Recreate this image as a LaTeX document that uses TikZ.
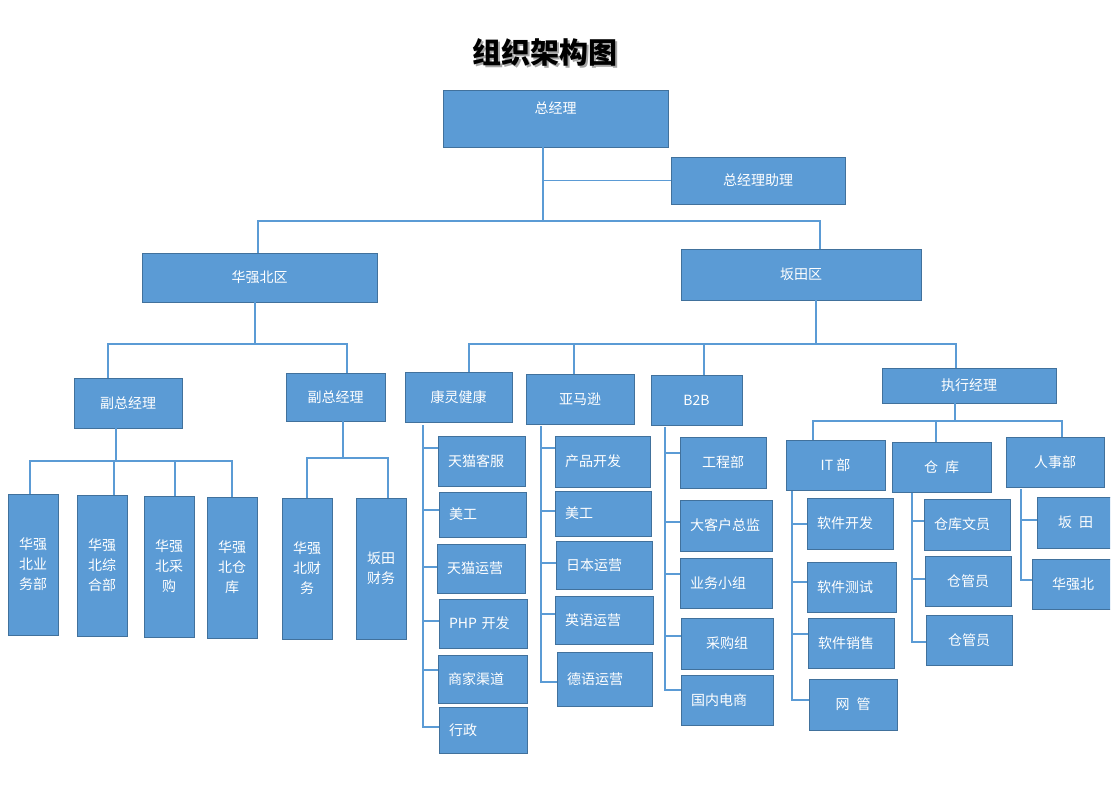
\documentclass[tikz,border=0pt]{standalone}
\usepackage{fontspec}
\newfontfamily\cjk{Noto Sans CJK SC}
\usepackage{xcolor}
\usepackage{tikz}
\definecolor{orgfill}{RGB}{91, 155, 213}
\definecolor{orgedge}{RGB}{65, 113, 156}
\definecolor{orgline}{RGB}{91, 155, 213}
\tikzset{
  unit/.style={draw=orgedge, fill=orgfill, line width=0.9pt, text=white, inner sep=0pt,
    font={\cjk\fontsize{14}{20}\selectfont}, align=center},
  lunit/.style={unit, align=left, inner xsep=10pt},
  link/.style={draw=orgline, line width=1.2pt},
  trunk/.style={draw=orgline, line width=2pt},
}
\begin{document}
\begin{tikzpicture}[x=1pt, y=-1pt]
\useasboundingbox (0,0) rectangle (1118,784);

% Title
\node[text=black!35, font={\cjk\bfseries\fontsize{29}{32}\selectfont}] (titleshade) at (547,54) {组织架构图};
\node[font={\cjk\bfseries\fontsize{29}{32}\selectfont}] (title) at (545,52) {组织架构图};

% Top
\node[unit, minimum width=225pt, text height=23pt, text depth=34pt] (gm) at (555.5,118.5) {总经理};
\node[unit, minimum width=174pt, minimum height=47pt] (asst) at (758,180.5) {总经理助理};
\node[unit, minimum width=235pt, minimum height=49pt] (hqb) at (259.5,277.5) {华强北区};
\node[unit, minimum width=240pt, minimum height=51pt] (bt) at (801,274.5) {坂田区};

% Huaqiangbei
\node[unit, minimum width=108pt, minimum height=50pt] (vp1) at (128,403) {副总经理};
\node[unit, minimum width=99pt, minimum height=48pt] (vp2) at (335.5,397) {副总经理};
\node[unit, minimum width=50pt, minimum height=141pt] (hq1) at (33,564.5) {华强\\北业\\务部};
\node[unit, minimum width=50pt, minimum height=141pt] (hq2) at (102,565.5) {华强\\北综\\合部};
\node[unit, minimum width=50pt, minimum height=141pt] (hq3) at (169,566.5) {华强\\北采\\购};
\node[unit, minimum width=50pt, minimum height=141pt] (hq4) at (232,567.5) {华强\\北仓\\库};
\node[unit, minimum width=50pt, minimum height=141pt] (hq5) at (307,568.5) {华强\\北财\\务};
\node[unit, minimum width=50pt, minimum height=141pt] (bt5) at (381,568.5) {坂田\\财务};

% Bantian departments
\node[unit, minimum width=107pt, minimum height=50pt] (kl) at (458.5,397) {康灵健康};
\node[unit, minimum width=108pt, minimum height=50pt] (amz) at (580,399) {亚马逊};
\node[unit, minimum width=91pt, minimum height=50pt] (b2b) at (696.5,400) {B2B};
\node[unit, minimum width=174pt, minimum height=35pt] (exe) at (969,385.5) {执行经理};

% Kangling
\node[lunit, text width=67pt, minimum height=50pt] (kl1) at (481.5,461) {天猫客服};
\node[lunit, text width=67pt, minimum height=45pt] (kl2) at (482.5,514.5) {美工};
\node[lunit, text width=68pt, minimum height=49pt] (kl3) at (481,568.5) {天猫运营};
\node[lunit, text width=68pt, minimum height=49pt] (kl4) at (483,623.5) {PHP 开发};
\node[lunit, text width=69pt, minimum height=48pt] (kl5) at (482.5,679) {商家渠道};
\node[lunit, text width=68pt, minimum height=46pt] (kl6) at (483,730) {行政};

% Amazon
\node[lunit, text width=75pt, minimum height=51pt] (am1) at (602.5,461.5) {产品开发};
\node[lunit, text width=76pt, minimum height=45pt] (am2) at (603,513.5) {美工};
\node[lunit, text width=76pt, minimum height=48pt] (am3) at (604,565) {日本运营};
\node[lunit, text width=78pt, minimum height=48pt] (am4) at (604,620) {英语运营};
\node[lunit, text width=75pt, minimum height=54pt] (am5) at (604.5,679) {德语运营};

% B2B
\node[unit, minimum width=86pt, minimum height=51pt] (b1) at (723,462.5) {工程部};
\node[lunit, text width=72pt, minimum height=51pt] (b2) at (726,525.5) {大客户总监};
\node[lunit, text width=72pt, minimum height=50pt] (b3) at (726,583) {业务小组};
\node[unit, minimum width=92pt, minimum height=51pt] (b4) at (727,643.5) {采购组};
\node[lunit, text width=72pt, minimum height=50pt] (b5) at (727,700) {国内电商};

% Executive
\node[unit, minimum width=99pt, minimum height=50pt] (it) at (835.5,465) {IT 部};
\node[unit, minimum width=99pt, minimum height=50pt] (ck) at (941.5,467) {仓\hspace{0.5em}库};
\node[unit, minimum width=98pt, minimum height=50pt] (hr) at (1055,462) {人事部};
\node[lunit, text width=66pt, minimum height=51pt] (it1) at (850,523.5) {软件开发};
\node[lunit, text width=69pt, minimum height=50pt] (it2) at (851.5,587) {软件测试};
\node[lunit, text width=66pt, minimum height=50pt] (it3) at (851,643) {软件销售};
\node[unit, minimum width=88pt, minimum height=51pt] (it4) at (853,704.5) {网\hspace{0.5em}管};
\node[lunit, text width=66pt, minimum height=51pt] (ck1) at (967,524.5) {仓库文员};
\node[unit, minimum width=86pt, minimum height=50pt] (ck2) at (968,581) {仓管员};
\node[unit, minimum width=86pt, minimum height=50pt] (ck3) at (969,640) {仓管员};
\begin{scope}
\clip (0,0) rectangle (1110,784);
\node[unit, minimum width=77pt, minimum height=51pt] (hr1) at (1075.5,522.5) {坂\hspace{0.5em}田};
\node[unit, minimum width=82pt, minimum height=50pt] (hr2) at (1073,584) {华强北};
\end{scope}

% Top lines
\coordinate (topbus) at (543,221);
\coordinate (btin) at ([xshift=19pt]bt.north);
\draw[link] (gm.south -| topbus) -- (topbus);
\draw[link] (topbus |- asst.west) -- (asst.west);
\draw[link] ([xshift=-1.5pt]hqb.north) |- (btin |- topbus) -- (btin);

% Huaqiangbei lines
\coordinate (hqbus) at (255,344);
\coordinate (vp1in) at ([xshift=-20pt]vp1.north);
\coordinate (vp2in) at ([xshift=11.5pt]vp2.north);
\draw[link] (hqb.south -| hqbus) -- (hqbus);
\draw[link] (vp1in) |- (hqbus) -| (vp2in);

\coordinate (vp1bus) at (116,461);
\coordinate (hq2in) at ([xshift=12pt]hq2.north);
\coordinate (hq3in) at ([xshift=6pt]hq3.north);
\draw[link] (vp1.south -| vp1bus) -- (vp1bus);
\draw[link] ([xshift=-3pt]hq1.north) |- (vp1bus) -| (hq4.north);
\draw[link] (hq2in) -- (hq2in |- vp1bus);
\draw[link] (hq3in) -- (hq3in |- vp1bus);

\coordinate (vp2bus) at (343,458);
\coordinate (bt5in) at ([xshift=7pt]bt5.north);
\draw[link] (vp2.south -| vp2bus) -- (vp2bus);
\draw[link] (hq5.north) |- (vp2bus) -| (bt5in);

% Bantian lines
\coordinate (btbus) at (816,344);
\coordinate (klin) at ([xshift=10.5pt]kl.north);
\coordinate (amzin) at ([xshift=-6pt]amz.north);
\coordinate (b2bin) at ([xshift=7.5pt]b2b.north);
\coordinate (exein) at ([xshift=-13pt]exe.north);
\draw[link] (bt.south -| btbus) -- (btbus);
\draw[link] (klin) |- (btbus) -| (exein);
\draw[link] (amzin) -- (amzin |- btbus);
\draw[link] (b2bin) -- (b2bin |- btbus);

\coordinate (exebus) at (955,421);
\coordinate (itin) at ([xshift=-22.5pt]it.north);
\coordinate (ckin) at ([xshift=-5.5pt]ck.north);
\coordinate (hrin) at ([xshift=7pt]hr.north);
\draw[link] (exe.south -| exebus) -- (exebus);
\draw[link] (itin) |- (exebus) -| (hrin);
\draw[link] (ckin) -- (ckin |- exebus);

% Kangling trunk
\coordinate (klt) at ([xshift=18pt,yshift=-3pt]kl.south west);
\draw[trunk] (klt) |- ([yshift=13pt]kl1.west);
\draw[trunk] (klt) |- ([yshift=4.5pt]kl2.west);
\draw[trunk] (klt) |- ([yshift=1.5pt]kl3.west);
\draw[trunk] (klt) |- ([yshift=2.5pt]kl4.west);
\draw[trunk] (klt) |- ([yshift=9pt]kl5.west);
\draw[trunk] (klt) |- ([yshift=3pt]kl6.west);

% Amazon trunk
\coordinate (amzt) at ([xshift=15pt,yshift=-2pt]amz.south west);
\draw[trunk] (amzt) |- ([yshift=13.5pt]am1.west);
\draw[trunk] (amzt) |- ([yshift=2.5pt]am2.west);
\draw[trunk] (amzt) |- ([yshift=2pt]am3.west);
\draw[trunk] (amzt) |- ([yshift=6pt]am4.west);
\draw[trunk] (amzt) |- ([yshift=-3pt]am5.west);

% B2B trunk
\coordinate (b2bt) at ([xshift=14pt,yshift=-2pt]b2b.south west);
\draw[trunk] (b2bt) |- ([yshift=9.5pt]b1.west);
\draw[trunk] (b2bt) |- ([yshift=3.5pt]b2.west);
\draw[trunk] (b2bt) |- ([yshift=9pt]b3.west);
\draw[trunk] (b2bt) |- ([yshift=7.5pt]b4.west);
\draw[trunk] (b2bt) |- ([yshift=10pt]b5.west);

% IT trunk
\coordinate (itt) at ([xshift=6pt,yshift=-1pt]it.south west);
\draw[trunk] (itt) |- (it1.west);
\draw[trunk] (itt) |- ([yshift=5pt]it2.west);
\draw[trunk] (itt) |- ([yshift=9pt]it3.west);
\draw[trunk] (itt) |- ([yshift=4.5pt]it4.west);

% Warehouse trunk
\coordinate (ckt) at ([xshift=20pt,yshift=-1pt]ck.south west);
\draw[trunk] (ckt) |- ([yshift=3.5pt]ck1.west);
\draw[trunk] (ckt) |- ([yshift=2pt]ck2.west);
\draw[trunk] (ckt) |- ([yshift=-2pt]ck3.west);

% HR trunk
\coordinate (hrt) at ([xshift=15pt,yshift=-2pt]hr.south west);
\draw[trunk] (hrt) |- ([yshift=2.5pt]hr1.west);
\draw[trunk] (hrt) |- ([yshift=4pt]hr2.west);
\end{tikzpicture}
\end{document}
